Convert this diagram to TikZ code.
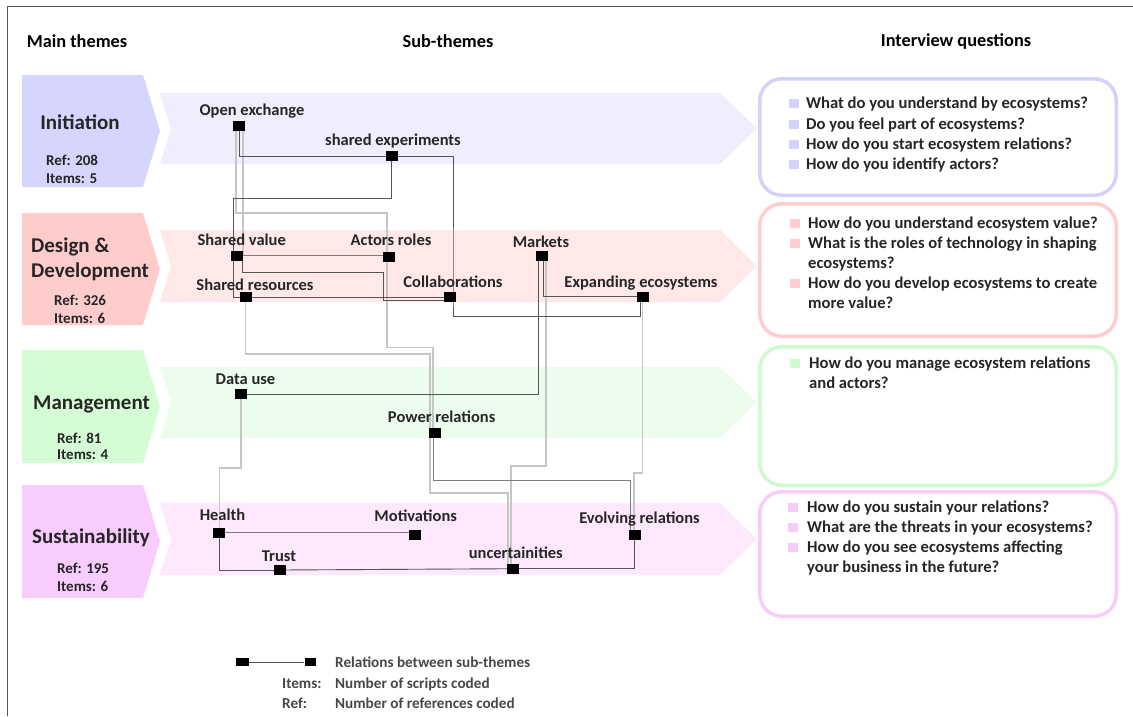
\documentclass[tikz,border=0pt]{standalone}
\usepackage{fontspec}
\setmainfont{Carlito}
\pgfdeclarelayer{back}
\pgfdeclarelayer{links}
\pgfsetlayers{back,links,main}

\definecolor{ink}{HTML}{262626}
\definecolor{iniMain}{HTML}{D5D5FD}
\definecolor{iniBand}{HTML}{EEEEFE}
\definecolor{iniEdge}{HTML}{D2D2FB}
\definecolor{desMain}{HTML}{FFCCCC}
\definecolor{desBand}{HTML}{FFE8E8}
\definecolor{desEdge}{HTML}{FFCDD0}
\definecolor{manMain}{HTML}{D5FDD5}
\definecolor{manBand}{HTML}{EDFDED}
\definecolor{manEdge}{HTML}{CFFACF}
\definecolor{susMain}{HTML}{F8CCFC}
\definecolor{susBand}{HTML}{FDE8FD}
\definecolor{susEdge}{HTML}{F8CCF8}
\definecolor{darklink}{HTML}{555555}
\definecolor{midlink}{HTML}{7C7C7C}
\definecolor{lightlink}{HTML}{C6C6C6}

\tikzset{
  hdr/.style={font=\fontsize{18.3}{21}\selectfont\bfseries, text=black, inner sep=0},
  ttl/.style={font=\fontsize{21}{24}\selectfont\bfseries, text=ink, inner sep=0},
  cnt/.style={font=\fontsize{15}{17}\selectfont\bfseries, text=ink, inner sep=0, yshift=-1pt},
  lbl/.style={font=\fontsize{16.5}{19}\selectfont\bfseries, text=ink, inner sep=0, text height=0.66em, text depth=0.08em, yshift=-2.5pt},
  qtxt/.style={font=\fontsize{16.6}{19}\selectfont\bfseries, text=ink, inner sep=0, anchor=west, text height=0.66em, text depth=0.08em, yshift=-2.5pt},
  leg/.style={font=\fontsize{15.2}{17}\selectfont\bfseries, text=ink!85, inner sep=0, anchor=west, text height=0.66em, text depth=0.08em, yshift=-2.5pt},
  sq/.style={fill=black, inner sep=0, minimum width=12pt, minimum height=10pt},
  bul/.style={inner sep=0, minimum width=10pt, minimum height=9pt},
  qbox/.style={line width=3.5pt, rounded corners=22pt, fill=white},
  dk/.style={draw=darklink, line width=0.9pt},
  md/.style={draw=midlink, line width=0.9pt},
  lt/.style={draw=lightlink, line width=1.2pt},
  frame/.style={draw=darklink, line width=1pt}
}

\begin{document}
\begin{tikzpicture}[x=1pt, y=-1pt]
\useasboundingbox (0,0) rectangle (1133,716);

% outer frame (top and left edges)
\draw[frame] (7,716) -- (7,6.5) -- (1133,6.5);

% column headers
\node[hdr] (hmain) at (77,41) {Main themes};
\node[hdr] (hsub) at (448,41) {Sub-themes};
\node[hdr] (hq) at (956,41) {Interview questions};

% sub-theme bands
\begin{pgfonlayer}{back}
\fill[iniBand] (160,93) -- (720,93) -- (757,128.5) -- (720,164) -- (160,164) -- (171,128.5) -- cycle;
\fill[desBand] (160,230) -- (720,230) -- (757,266) -- (720,302) -- (160,302) -- (171,266) -- cycle;
\fill[manBand] (160,367) -- (720,367) -- (757,402.5) -- (720,438) -- (160,438) -- (171,402.5) -- cycle;
\fill[susBand] (160,503) -- (720,503) -- (757,539) -- (720,575) -- (160,575) -- (171,539) -- cycle;
\end{pgfonlayer}

% main theme chevrons
\fill[iniMain] (22,75) -- (143,75) -- (160,131) -- (143,187) -- (22,187) -- cycle;
\fill[desMain] (22,213) -- (143,213) -- (160,269) -- (143,325) -- (22,325) -- cycle;
\fill[manMain] (22,350) -- (143,350) -- (160,406) -- (143,463) -- (22,463) -- cycle;
\fill[susMain] (22,485) -- (143,485) -- (160,541) -- (143,598) -- (22,598) -- cycle;

\node[ttl] (tini) at (80,122) {Initiation};
\node[cnt, anchor=west] (rini) at (46,159) {Ref: 208};
\node[cnt, anchor=west] (iini) at (46,178) {Items: 5};

\node[ttl, anchor=west] (tdes1) at (31,247) {Design \&};
\node[ttl, anchor=west] (tdes2) at (31,272) {Development};
\node[cnt, anchor=west] (rdes) at (54,299) {Ref: 326};
\node[cnt, anchor=west] (ides) at (54,317) {Items: 6};

\node[ttl, anchor=west] (tman) at (33,404) {Management};
\node[cnt, anchor=west] (rman) at (57,437) {Ref: 81};
\node[cnt, anchor=west] (iman) at (57,454) {Items: 4};

\node[ttl, anchor=west] (tsus) at (32,538) {Sustainability};
\node[cnt, anchor=west] (rsus) at (57,567) {Ref: 195};
\node[cnt, anchor=west] (isus) at (57,585) {Items: 6};

% question boxes
\draw[qbox, draw=iniEdge] (759.75,78.75) rectangle (1116.25,195.25);
\draw[qbox, draw=desEdge] (759.75,203.75) rectangle (1116.25,336.25);
\draw[qbox, draw=manEdge] (759.75,346.75) rectangle (1116.25,485.25);
\draw[qbox, draw=susEdge] (759.75,491.75) rectangle (1116.25,616.25);

\node[bul, fill=iniEdge] (b11) at (794,103) {};
\node[bul, fill=iniEdge] (b12) at (794,124) {};
\node[bul, fill=iniEdge] (b13) at (794,144) {};
\node[bul, fill=iniEdge] (b14) at (794,164) {};
\node[qtxt] (q11) at (806,103) {What do you understand by ecosystems?};
\node[qtxt] (q12) at (806,124) {Do you feel part of ecosystems?};
\node[qtxt] (q13) at (806,144) {How do you start ecosystem relations?};
\node[qtxt] (q14) at (806,164) {How do you identify actors?};

\node[bul, fill=desEdge] (b21) at (795,223) {};
\node[bul, fill=desEdge] (b22) at (795,243) {};
\node[bul, fill=desEdge] (b23) at (795,283) {};
\node[qtxt] (q21) at (808,223) {How do you understand ecosystem value?};
\node[qtxt] (q22) at (808,243) {What is the roles of technology in shaping};
\node[qtxt] (q22b) at (808,263) {ecosystems?};
\node[qtxt] (q23) at (808,283) {How do you develop ecosystems to create};
\node[qtxt] (q23b) at (808,303) {more value?};

\node[bul, fill=manEdge] (b31) at (795,363) {};
\node[qtxt] (q31) at (809,363) {How do you manage ecosystem relations};
\node[qtxt] (q31b) at (809,383) {and actors?};

\node[bul, fill=susEdge] (b41) at (793,507) {};
\node[bul, fill=susEdge] (b42) at (793,527) {};
\node[bul, fill=susEdge] (b43) at (793,547) {};
\node[qtxt] (q41) at (807,507) {How do you sustain your relations?};
\node[qtxt] (q42) at (807,527) {What are the threats in your ecosystems?};
\node[qtxt] (q43) at (807,547) {How do you see ecosystems affecting};
\node[qtxt] (q43b) at (807,567) {your business in the future?};

% sub-theme markers
\node[sq] (oe) at (239.3,126) {};
\node[sq] (se) at (391.7,156) {};
\node[sq] (sv) at (237.3,255.7) {};
\node[sq] (ar) at (389.3,256.7) {};
\node[sq] (mk) at (541.7,256) {};
\node[sq] (sr) at (245.7,297.3) {};
\node[sq] (collab) at (450,296.7) {};
\node[sq] (ee) at (642.7,296.7) {};
\node[sq] (du) at (241,394) {};
\node[sq] (pr) at (435,433.3) {};
\node[sq] (hl) at (219.3,532.7) {};
\node[sq] (mo) at (415,535.3) {};
\node[sq] (er) at (635,535) {};
\node[sq] (tr) at (280,570) {};
\node[sq] (unc) at (512.7,568.7) {};

% sub-theme labels
\node[lbl] (l-oe) at (252,110) {Open exchange};
\node[lbl] (l-se) at (393,140) {shared experiments};
\node[lbl] (l-sv) at (241.7,240) {Shared value};
\node[lbl] (l-ar) at (391,240) {Actors roles};
\node[lbl] (l-mk) at (541,241.7) {Markets};
\node[lbl] (l-sr) at (255,285) {Shared resources};
\node[lbl] (l-collab) at (453,281.7) {Collaborations};
\node[lbl] (l-ee) at (641,281.7) {Expanding ecosystems};
\node[lbl] (l-du) at (245.5,379) {Data use};
\node[lbl] (l-pr) at (441.7,417) {Power relations};
\node[lbl] (l-hl) at (222.5,515) {Health};
\node[lbl] (l-mo) at (415.7,515.7) {Motivations};
\node[lbl] (l-er) at (639.5,518.3) {Evolving relations};
\node[lbl] (l-tr) at (279,555.7) {Trust};
\node[lbl] (l-unc) at (515.8,552.7) {uncertainities};

% relations between sub-themes
\begin{pgfonlayer}{links}
% weaker relations
\draw[lt] ([xshift=-3.3pt]oe.center) -- ++(0,87) -| ([xshift=-2.3pt]ar.center);
\draw[lt] ([xshift=-2.3pt]ar.center) -- ++(0,91) -| ([xshift=-2pt]pr.center);
\draw[lt] ([xshift=3.7pt]oe.center) |- (sv.center);
\draw[lt] ([xshift=4.3pt]mk.center) -- ++(0,210) -| ([xshift=-1.7pt]unc.center);
\draw[lt] (ee.center) -- ++(0,176.3) -| ([xshift=-1pt]er.center);
\draw[lt] (sr.center) -- ++(0,56.7) -- ++(184.3,0) -- ++(0,139) -| ([xshift=-4.7pt]unc.center);
\draw[lt] (du.center) -- ++(0,74) -| (hl.center);
% stronger relations
\draw[dk] (oe.center) |- (se.center);
\draw[dk] (se.center) -| ([xshift=3pt]collab.center) |- ([xshift=-2.7pt,yshift=-20pt]ee.center) -- ([xshift=-2.7pt]ee.center);
\draw[dk] (se.center) -- ++(0,42) -| ([xshift=-12.7pt]sr.center) -- (sr.center);
\draw[md] (sv.center) -- (sv.center -| ar.center);
\draw[dk] ([xshift=5pt]sv.center) -- ++(0,17) -- ++(140.7,0) |- ([yshift=-3.3pt]collab.center);
\draw[dk] (sr.center) -- (sr.center -| collab.center);
\draw[dk] ([xshift=-3.7pt]mk.center) |- (du.center);
\draw[dk] ([xshift=1.3pt]mk.center) |- (ee.center);
\draw[md] ([xshift=-2pt]pr.center) -- ++(0,46.7) -| ([xshift=-5pt]er.center);
\draw[dk] ([xshift=-1pt]er.center) |- (unc.center);
\draw[md] (hl.center) -- (hl.center -| mo.center);
\draw[dk] (hl.center) |- (tr.center);
\draw[dk] (tr.center) -- (unc.center);
\end{pgfonlayer}

% legend
\node[sq, minimum width=13pt, minimum height=8pt] (lg1) at (242,662) {};
\node[sq, minimum width=11pt, minimum height=8pt] (lg2) at (310,662) {};
\draw[dk] (lg1) -- (lg2);
\node[leg] (lgt1) at (335,662) {Relations between sub-themes};
\node[leg] (lgi) at (282,683) {Items:};
\node[leg] (lgit) at (335,683) {Number of scripts coded};
\node[leg] (lgr) at (282,703) {Ref:};
\node[leg] (lgrt) at (335,703) {Number of references coded};
\end{tikzpicture}
\end{document}
